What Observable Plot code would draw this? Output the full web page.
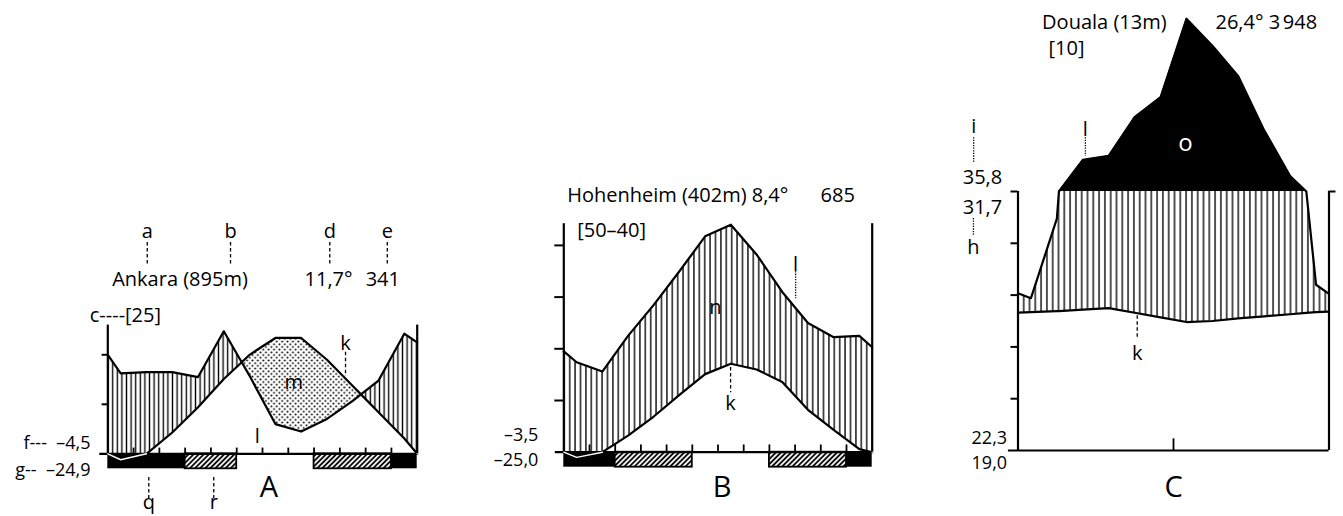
<!DOCTYPE html>
<html><head><meta charset="utf-8">
<script src="https://cdn.jsdelivr.net/npm/d3@7"></script>
<script src="https://cdn.jsdelivr.net/npm/@observablehq/plot@0.6"></script>
<style>
body{margin:0;background:#fff;}
#wrap{position:relative;width:1343px;height:516px;overflow:hidden;background:#fff;}
</style></head><body>
<svg width="0" height="0" style="position:absolute;left:0;top:0">
 <defs>
  <pattern id="vhA" patternUnits="userSpaceOnUse" width="4.6" height="10"><line x1="2.3" y1="0" x2="2.3" y2="10" stroke="black" stroke-width="1.35"/></pattern>
  <pattern id="vhB" patternUnits="userSpaceOnUse" width="5.4" height="10"><line x1="2.7" y1="0" x2="2.7" y2="10" stroke="black" stroke-width="1.35"/></pattern>
  <pattern id="vhC" patternUnits="userSpaceOnUse" width="5.8" height="10"><line x1="2.9" y1="0" x2="2.9" y2="10" stroke="black" stroke-width="1.35"/></pattern>
  <pattern id="dots" patternUnits="userSpaceOnUse" width="5.4" height="5.4"><circle cx="1.35" cy="1.35" r="1" fill="black"/><circle cx="4.05" cy="4.05" r="1" fill="black"/></pattern>
  <pattern id="diag" patternUnits="userSpaceOnUse" width="3.6" height="3.6" patternTransform="rotate(45)"><line x1="1" y1="0" x2="1" y2="3.6" stroke="black" stroke-width="1.8"/></pattern>
 </defs>
</svg>
<div id="wrap"></div>
<script>
// ---------- data ----------
const months = ["Jan","Feb","Mar","Apr","May","Jun","Jul","Aug","Sep","Oct","Nov","Dec"];

// Ankara (895 m), 11.7 °C, 341 mm
const ankaraTemp   = [-1.2, 0, 4.3, 9.4, 15.1, 20.0, 23.4, 23.4, 19.0, 13.7, 8.4, 3.1];
const ankaraPrecip = [32.5, 33, 33, 31, 49.5, 31.5, 12, 9, 14.1, 21.4, 29.6, 48.5];
const ankaraEdgeTemp = [0, 0];
const ankaraEdgePrecip = [40, 45];
const ankaraColdMonths = [1, 2, 3, 12];
const ankaraFrostMonths = [4, 5, 9, 10, 11];

// Hohenheim (402 m), 8.4 °C, 685 mm
const hohenheimTemp   = [-1, 0, 3.2, 6.9, 11.1, 15.1, 17.1, 16.0, 13.6, 8.2, 4.3, 0.6];
const hohenheimPrecip = [34.8, 31.2, 45, 57, 70, 83.5, 88, 76.5, 62, 50, 44.5, 45];
const hohenheimEdgeTemp = [0, 0];
const hohenheimEdgePrecip = [39, 40.6];
const hohenheimColdMonths = [1, 2, 12];
const hohenheimFrostMonths = [3, 4, 5, 9, 10, 11];

// Douala (13 m), 26.4 °C, 3948 mm
const doualaTemp   = [26.7, 26.9, 27.2, 27.5, 26.6, 25.7, 24.8, 25.0, 25.5, 25.9, 26.3, 26.7];
const doualaPrecip = [58.8, 89.5, 222, 238, 387, 464, 767, 663, 545, 336, 160, 64];
const doualaEdgeTemp = [26.6, 26.8];
const doualaEdgePrecip = [60.7, 60.5];
const doualaColdMonths = [];
const doualaFrostMonths = [];

// ---------- helpers ----------
// Walter-Lieth precipitation scale: 10 °C = 20 mm, above 100 mm reduced to 1/10
const yP = p => p <= 100 ? p / 2 : 50 + (p - 100) / 20;

function buildSeries(temp, precip, edgeT, edgeP) {
  const xs = [0, ...temp.map((_, i) => i + 0.5), 12];
  const T = [edgeT[0], ...temp, edgeT[1]];
  const P = [edgeP[0], ...precip, edgeP[1]];
  const pts = [];
  for (let i = 0; i < xs.length; i++) {
    if (i > 0) {
      const p0 = P[i - 1], p1 = P[i];
      if ((p0 - 100) * (p1 - 100) < 0) {
        const f = (100 - p0) / (p1 - p0);
        pts.push({x: xs[i - 1] + f * (xs[i] - xs[i - 1]), t: T[i - 1] + f * (T[i] - T[i - 1]), p: 100});
      }
    }
    pts.push({x: xs[i], t: T[i], p: P[i]});
  }
  pts.forEach(d => d.yp = yP(d.p));
  const out = [];
  for (let i = 0; i < pts.length; i++) {
    if (i > 0) {
      const a = pts[i - 1], b = pts[i];
      const d0 = a.yp - a.t, d1 = b.yp - b.t;
      if (d0 * d1 < 0) {
        const f = d0 / (d0 - d1);
        const y = a.t + f * (b.t - a.t);
        out.push({x: a.x + f * (b.x - a.x), t: y, yp: y});
      }
    }
    out.push(pts[i]);
  }
  return out;
}

function spans(list) {
  const s = [...list].sort((a, b) => a - b);
  const res = [];
  for (const m of s) {
    const last = res[res.length - 1];
    if (last && last[1] === m - 1) last[1] = m;
    else res.push([m - 1, m]);
  }
  return res;
}

const FONT = '"Open Sans", "Noto Sans", sans-serif';

function panel(cfg) {
  const s = buildSeries(cfg.temp, cfg.precip, cfg.edgeT, cfg.edgeP);
  const marks = [
    Plot.area(s, {x1: "x", y1: "t", y2: d => Math.min(Math.max(d.yp, d.t), 50), fill: `url(#${cfg.hatch})`}),
    Plot.area(s, {x1: "x", y1: "yp", y2: d => Math.max(d.t, d.yp), fill: "url(#dots)"}),
  ];
  if (cfg.top >= 50) marks.push(Plot.area(s, {x1: "x", y1: 50, y2: d => Math.max(d.yp, 50), fill: "black"}));
  marks.push(
    Plot.line(s, {x: "x", y: "yp", stroke: "black", strokeWidth: 2.2}),
    Plot.line(s, {x: "x", y: "t", stroke: "black", strokeWidth: 2.2}),
    Plot.ruleX([0, 12], {y1: 0, y2: cfg.top, stroke: "black", strokeWidth: 2.2}),
    Plot.ruleY([0], {x1: -cfg.baseExt, x2: 12, stroke: "black", strokeWidth: 2.2}),
    Plot.ruleY(cfg.yTicks, {x1: -cfg.tickLen, x2: 0, stroke: "black", strokeWidth: 2}),
    Plot.ruleX(cfg.monthTicks, {y1: 0, y2: cfg.mTickLen, stroke: "black", strokeWidth: 1.8}),
    Plot.rect(spans(cfg.cold), {x1: d => d[0], x2: d => d[1], y1: 0, y2: -cfg.barH, fill: "black"}),
    Plot.rect(spans(cfg.frost), {x1: d => d[0], x2: d => d[1], y1: 0, y2: -cfg.barH, fill: "url(#diag)", stroke: "black", strokeWidth: 1.8}),
    Plot.line(s, {x: "x", y: d => d.t <= 0 ? d.t : NaN, stroke: "white", strokeWidth: 1.4})
  );
  if (cfg.rightTick) marks.push(Plot.ruleY([cfg.top], {x1: 12, x2: 12 + cfg.tickLen, stroke: "black", strokeWidth: 2}));
  for (const g of cfg.guides) {
    marks.push(Plot.ruleX([g], {x: "x", y1: "y1", y2: "y2", stroke: "black", strokeWidth: 1.3, strokeDasharray: g.dot ? "1.3,1.3" : "3.5,2.5"}));
  }
  for (const l of cfg.labels) {
    marks.push(Plot.text([l], {x: "x", y: "y", text: "t", textAnchor: l.a || "middle", lineAnchor: "bottom",
      fontSize: l.size || 20, fill: l.fill || "black", fontFamily: FONT}));
  }
  return Plot.plot({
    width: 1343, height: 516, margin: 0,
    x: {domain: [0, 12], range: cfg.xRange, axis: null},
    y: {domain: [0, cfg.top], range: [cfg.base, cfg.base - cfg.top * cfg.unit], axis: null},
    style: {position: "absolute", left: "0px", top: "0px", background: "transparent", fontFamily: FONT},
    marks
  });
}

const wrap = document.getElementById("wrap");

wrap.append(panel({
  temp: ankaraTemp, precip: ankaraPrecip, edgeT: ankaraEdgeTemp, edgeP: ankaraEdgePrecip,
  cold: ankaraColdMonths, frost: ankaraFrostMonths, hatch: "vhA",
  xRange: [107.3, 416.7], base: 453.3, unit: 4.95, top: 26,
  yTicks: [10, 20], tickLen: 0.22, baseExt: 0.31, monthTicks: [1,2,3,4,5,6,7,8,9,10,11], mTickLen: 1.15, barH: 3.03,
  guides: [
    {x: 1.53, y1: 42.7, y2: 38.0}, {x: 4.76, y1: 42.7, y2: 38.0}, {x: 8.61, y1: 42.7, y2: 38.0}, {x: 10.84, y1: 42.7, y2: 38.0},
    {x: 9.22, y1: 20.5, y2: 15.6}, {x: 1.59, y1: -4.8, y2: -9.4}, {x: 4.11, y1: -4.8, y2: -9.4}
  ],
  labels: [
    {t: "a", x: 1.53, y: 43.5}, {t: "b", x: 4.76, y: 43.5}, {t: "d", x: 8.61, y: 43.5}, {t: "e", x: 10.84, y: 43.5},
    {t: "Ankara (895m)", x: 0.17, y: 34.0, a: "start"},
    {t: "11,7°", x: 7.63, y: 34.0, a: "start"}, {t: "341", x: 10.0, y: 34.0, a: "start"},
    {t: "c----[25]", x: -0.70, y: 26.7, a: "start"},
    {t: "f---  –4,5", x: -0.67, y: 0.9, a: "end", size: 18},
    {t: "g--  –24,9", x: -0.67, y: -4.4, a: "end", size: 18},
    {t: "m", x: 7.21, y: 13.0}, {t: "k", x: 9.22, y: 20.9}, {t: "l", x: 5.80, y: 2.1},
    {t: "A", x: 6.25, y: -8.77, size: 29},
    {t: "q", x: 1.59, y: -11.2}, {t: "r", x: 4.11, y: -11.2}
  ]
}));

wrap.append(panel({
  temp: hohenheimTemp, precip: hohenheimPrecip, edgeT: hohenheimEdgeTemp, edgeP: hohenheimEdgePrecip,
  cold: hohenheimColdMonths, frost: hohenheimFrostMonths, hatch: "vhB",
  xRange: [563.3, 871.7], base: 451.7, unit: 5.17, top: 44.2,
  yTicks: [10, 20, 30, 40], tickLen: 0.35, baseExt: 0.33, monthTicks: [1,2,3,4,5,6,7,8,9,10,11], mTickLen: 1.4, barH: 2.9,
  guides: [
    {x: 9.02, y1: 34.9, y2: 29.7, dot: true}, {x: 6.49, y1: 16.4, y2: 11.5}
  ],
  labels: [
    {t: "Hohenheim (402m) 8,4°", x: 0.13, y: 48.3, a: "start"}, {t: "685", x: 9.99, y: 48.3, a: "start"},
    {t: "[50–40]", x: 0.52, y: 41.6, a: "start"},
    {t: "n", x: 5.9, y: 26.8}, {t: "l", x: 9.02, y: 35.1}, {t: "k", x: 6.49, y: 8.07},
    {t: "–3,5", x: -0.99, y: 2.2, a: "end", size: 18}, {t: "–25,0", x: -0.99, y: -2.7, a: "end", size: 18},
    {t: "B", x: 6.16, y: -8.76, size: 29}
  ]
}));

wrap.append(panel({
  temp: doualaTemp, precip: doualaPrecip, edgeT: doualaEdgeTemp, edgeP: doualaEdgePrecip,
  cold: doualaColdMonths, frost: doualaFrostMonths, hatch: "vhC",
  xRange: [1017.5, 1328.5], base: 450, unit: 5.18, top: 50, rightTick: true,
  yTicks: [10, 20, 30, 40, 50], tickLen: 0.27, baseExt: 0.37, monthTicks: [6], mTickLen: 2.25, barH: 0,
  guides: [
    {x: -1.71, y1: 60.4, y2: 55.4, dot: true}, {x: -1.72, y1: 44.8, y2: 41.5, dot: true},
    {x: 2.60, y1: 60.4, y2: 56.8, dot: true}, {x: 4.6, y1: 26.0, y2: 21.6}
  ],
  labels: [
    {t: "Douala (13m)", x: 0.93, y: 81.3, a: "start"}, {t: "26,4° 3\u202F948", x: 7.62, y: 81.3, a: "start"},
    {t: "[10]", x: 1.18, y: 76.3, a: "start"},
    {t: "i", x: -1.71, y: 61.2}, {t: "35,8", x: -0.61, y: 51.5, a: "end"}, {t: "31,7", x: -0.61, y: 45.7, a: "end"},
    {t: "h", x: -1.72, y: 38.0}, {t: "l", x: 2.60, y: 60.8},
    {t: "o", x: 6.46, y: 57.9, fill: "white", size: 24},
    {t: "k", x: 4.6, y: 17.4},
    {t: "22,3", x: -0.42, y: 1.3, a: "end", size: 18}, {t: "19,0", x: -0.42, y: -3.55, a: "end", size: 18},
    {t: "C", x: 6.01, y: -9.0, size: 29}
  ]
}));
</script>
</body></html>
